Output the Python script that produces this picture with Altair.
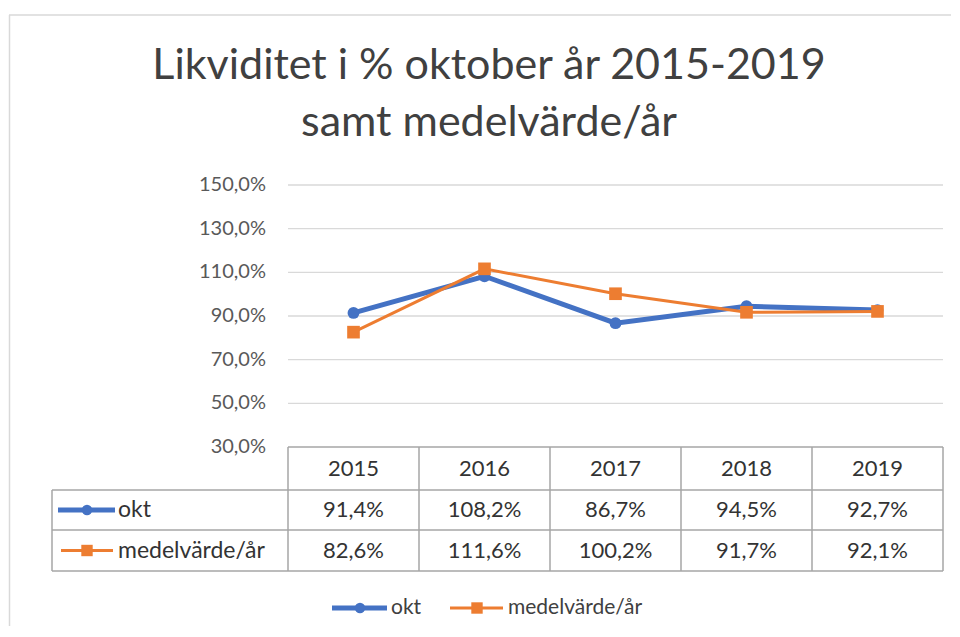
import altair as alt
import pandas as pd

# ---------------- data ----------------
years = ["2015", "2016", "2017", "2018", "2019"]
okt = [91.4, 108.2, 86.7, 94.5, 92.7]
medel = [82.6, 111.6, 100.2, 91.7, 92.1]
series = ["okt", "medelvärde/år"]
y_ticks = [30, 50, 70, 90, 110, 130, 150]
title_lines = ["Likviditet i % oktober år 2015-2019", "samt medelvärde/år"]

# ---------------- style / layout ----------------
BLUE = "#4472C4"
ORANGE = "#ED7D31"
FONT = "Lato"
TXT = "#333333"
GRID = "#D9D9D9"
BORDER = "#A6A6A6"

OX, OY = 9, 14          # page position of the view
W, H = 942, 612         # view size
PLOT_L = 288            # page x where plot area starts
COL_W = 131             # column width (px)
Y30 = 447               # page y of the 30 % line
PX_PER_PCT = 262 / 120


def ux(px):
    return (px - PLOT_L) / COL_W


def vy(py):
    return 30 + (Y30 - py) / PX_PER_PCT


def pct(v):
    return f"{v:.1f}".replace(".", ",") + "%"


xs = alt.Scale(domain=[ux(OX), ux(OX + W)], nice=False, zero=False)
ys = alt.Scale(domain=[vy(OY + H), vy(OY)], nice=False, zero=False)

ROW_TOP = [447, 490, 530, 571]          # header / okt / medel row boundaries
row_center = [(ROW_TOP[i] + ROW_TOP[i + 1]) / 2 for i in range(3)]
TABLE_L = 52


def X(f):
    return alt.X(f, type="quantitative", scale=xs, axis=None)


def Y(f):
    return alt.Y(f, type="quantitative", scale=ys, axis=None)


# ---------------- frames ----------------
frame_top = alt.Chart(pd.DataFrame({"a": [0]})).mark_rule(color=GRID, strokeWidth=1.5).encode(
    x=alt.value(0), x2=alt.value(W + 20), y=alt.value(1))
frame_left = alt.Chart(pd.DataFrame({"a": [0]})).mark_rule(color=GRID, strokeWidth=1.5).encode(
    x=alt.value(0.5), y=alt.value(1), y2=alt.value(H + 20))

# ---------------- grid + y labels ----------------
grid_df = pd.DataFrame({"y": y_ticks[1:], "x0": 0, "x1": len(years)})
grid = alt.Chart(grid_df).mark_rule(color=GRID, strokeWidth=1.3).encode(
    x=X("x0"), x2="x1", y=Y("y"))

lab_df = pd.DataFrame({"y": y_ticks, "label": [pct(t) for t in y_ticks], "x": ux(266)})
ylabels = alt.Chart(lab_df).mark_text(align="right", baseline="middle", font=FONT,
                                      fontSize=20, color="#595959").encode(
    x=X("x"), y=Y("y"), text="label:N")

# ---------------- lines ----------------
xc = [i + 0.5 for i in range(len(years))]
okt_df = pd.DataFrame({"x": xc, "v": okt, "year": years})
med_df = pd.DataFrame({"x": xc, "v": medel, "year": years})

okt_line = alt.Chart(okt_df).mark_line(color=BLUE, strokeWidth=5).encode(x=X("x"), y=Y("v"))
okt_pts = alt.Chart(okt_df).mark_point(shape="circle", filled=True, size=140, color=BLUE,
                                       opacity=1).encode(x=X("x"), y=Y("v"))
med_line = alt.Chart(med_df).mark_line(color=ORANGE, strokeWidth=3).encode(x=X("x"), y=Y("v"))
med_pts = alt.Chart(med_df).mark_point(shape="square", filled=True, size=160, color=ORANGE,
                                       opacity=1).encode(x=X("x"), y=Y("v"))

# ---------------- data table ----------------
col_edges = [i for i in range(len(years) + 1)]
h_rows = [{"x0": 0, "x1": len(years), "y": vy(ROW_TOP[0])}]
for r in ROW_TOP[1:]:
    h_rows.append({"x0": ux(TABLE_L), "x1": len(years), "y": vy(r)})
h_df = pd.DataFrame(h_rows)
v_rows = [{"x": ux(TABLE_L), "y0": vy(ROW_TOP[1]), "y1": vy(ROW_TOP[3])}]
for c in col_edges:
    v_rows.append({"x": c, "y0": vy(ROW_TOP[0]), "y1": vy(ROW_TOP[3])})
v_df = pd.DataFrame(v_rows)

hlines = alt.Chart(h_df).mark_rule(color=BORDER, strokeWidth=1.5).encode(
    x=X("x0"), x2="x1", y=Y("y"))
vlines = alt.Chart(v_df).mark_rule(color=BORDER, strokeWidth=1.5).encode(
    x=X("x"), y=Y("y0"), y2="y1")

cells = []
for i, yr in enumerate(years):
    cells.append({"x": xc[i], "y": vy(row_center[0]), "t": yr})
    cells.append({"x": xc[i], "y": vy(row_center[1]), "t": pct(okt[i])})
    cells.append({"x": xc[i], "y": vy(row_center[2]), "t": pct(medel[i])})
cell_df = pd.DataFrame(cells)
cell_text = alt.Chart(cell_df).mark_text(align="center", baseline="middle", font=FONT,
                                         fontSize=22, color=TXT).encode(
    x=X("x"), y=Y("y"), text="t:N")

row_lab_df = pd.DataFrame({"x": ux(118), "y": [vy(row_center[1]), vy(row_center[2])], "t": series})
row_labels = alt.Chart(row_lab_df).mark_text(align="left", baseline="middle", font=FONT,
                                             fontSize=23, color=TXT).encode(
    x=X("x"), y=Y("y"), text="t:N")


def key(x0, x1, xm, yv, color, width, shape, size):
    d = pd.DataFrame({"x0": [ux(x0)], "x1": [ux(x1)], "xm": [ux(xm)], "y": [yv]})
    ln = alt.Chart(d).mark_rule(color=color, strokeWidth=width).encode(x=X("x0"), x2="x1", y=Y("y"))
    pt = alt.Chart(d).mark_point(shape=shape, filled=True, size=size, color=color, opacity=1).encode(
        x=X("xm"), y=Y("y"))
    return ln + pt


tkey_okt = key(58, 115, 87, vy(row_center[1]), BLUE, 5, "circle", 110)
tkey_med = key(61, 113, 87, vy(row_center[2]), ORANGE, 3, "square", 130)

# ---------------- bottom legend ----------------
LEG_Y = vy(608)
lkey_okt = key(332, 387, 360, LEG_Y, BLUE, 5, "circle", 110)
lkey_med = key(450, 503, 477, LEG_Y, ORANGE, 3, "square", 130)
leg_df = pd.DataFrame({"x": [ux(391), ux(508)], "y": LEG_Y, "t": series})
leg_text = alt.Chart(leg_df).mark_text(align="left", baseline="middle", font=FONT,
                                       fontSize=21, color="#404040").encode(
    x=X("x"), y=Y("y"), text="t:N")

chart = alt.layer(
    frame_top, frame_left, grid, ylabels,
    hlines, vlines, cell_text, row_labels,
    tkey_okt, tkey_med,
    okt_line, okt_pts, med_line, med_pts,
    lkey_okt, lkey_med, leg_text,
).properties(
    width=W, height=H,
    title=alt.TitleParams(text=title_lines, font=FONT, fontSize=43, fontWeight="normal",
                          color="#404040", anchor="middle", frame="group", offset=0,
                          dx=9, dy=131, lineHeight=57),
    autosize=alt.AutoSizeParams(type="none"),
    padding={"left": OX - 8, "top": OY - 8, "right": 0, "bottom": 0},
).configure_view(stroke="transparent", strokeWidth=0)

chart.save("out.html", embed_options={"renderer": "svg", "actions": False})
